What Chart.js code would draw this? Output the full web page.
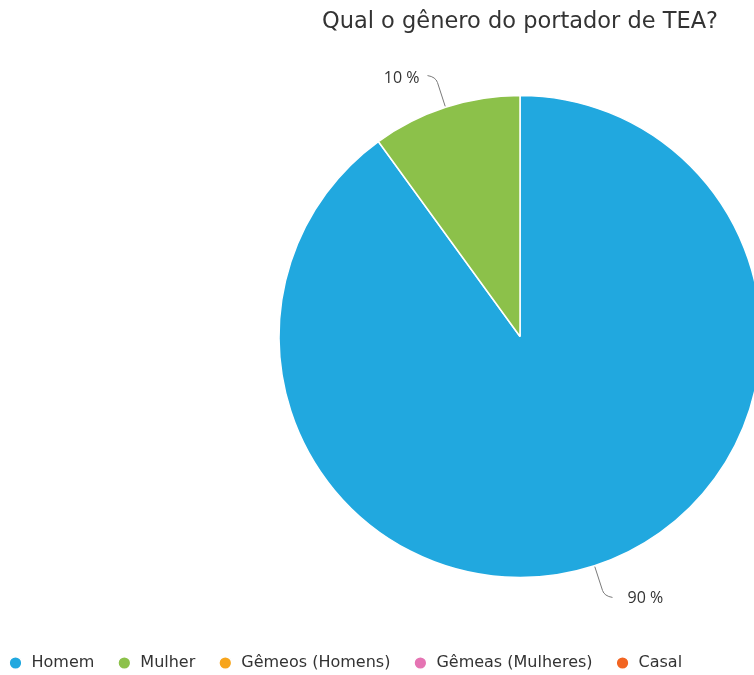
<!DOCTYPE html>
<html>
<head>
<meta charset="utf-8">
<script src="https://cdn.jsdelivr.net/npm/chart.js@4"></script>
<style>
  html, body { margin: 0; padding: 0; background: #fff; overflow: hidden; }
  #caixa { position: relative; width: 1040px; height: 681px; }
</style>
</head>
<body>
<div id="caixa"><canvas id="grafico"></canvas></div>
<script>
const titulo = 'Qual o gênero do portador de TEA?';
const categorias = ['Homem', 'Mulher', 'Gêmeos (Homens)', 'Gêmeas (Mulheres)', 'Casal'];
const percentuais = [90, 10, 0, 0, 0];
const cores = ['#21a8df', '#8cc14a', '#f7a51c', '#e574b3', '#f26522'];

const ctx = document.getElementById('grafico').getContext('2d');

// rótulos "xx %" fora da pizza, com linha guia
const rotulosExternos = {
  id: 'rotulosExternos',
  afterDatasetsDraw(chart) {
    const meta = chart.getDatasetMeta(0);
    const c = chart.ctx;
    c.save();
    meta.data.forEach((arco, i) => {
      const valor = percentuais[i];
      if (!valor) return;
      const p = arco.getProps(['x', 'y', 'startAngle', 'endAngle', 'outerRadius'], true);
      const meio = (p.startAngle + p.endAngle) / 2;
      const ux = Math.cos(meio);
      const uy = Math.sin(meio);
      const sx = ux >= 0 ? 1 : -1;
      const x0 = p.x + ux * (p.outerRadius + 1);
      const y0 = p.y + uy * (p.outerRadius + 1);
      const x1 = p.x + ux * (p.outerRadius + 26);
      const y1 = p.y + uy * (p.outerRadius + 26);
      const x2 = x1 + sx * 10;
      const y2 = y1 + (uy >= 0 ? 7 : -7);
      c.strokeStyle = '#7a7a7a';
      c.lineWidth = 1;
      c.beginPath();
      c.moveTo(x0, y0);
      c.lineTo(x1, y1);
      c.quadraticCurveTo(x1 + ux * 6, y1 + uy * 6, x2, y2);
      c.stroke();
      c.fillStyle = '#333';
      c.font = '16px "Open Sans"';
      c.textBaseline = 'middle';
      c.textAlign = sx > 0 ? 'left' : 'right';
      c.fillText(valor + ' %', x2 + (sx > 0 ? 15 : -8), y2 + (uy >= 0 ? 1 : 3));
    });
    c.restore();
  }
};

new Chart(ctx, {
  type: 'pie',
  data: {
    labels: categorias,
    datasets: [{
      data: percentuais,
      backgroundColor: cores,
      borderColor: '#ffffff',
      borderWidth: 1.5,
      radius: 241
    }]
  },
  options: {
    responsive: true,
    maintainAspectRatio: false,
    animation: false,
    layout: { padding: { left: -14.5, right: -14.5, top: 0, bottom: 0 } },
    plugins: {
      title: {
        display: true,
        text: titulo,
        color: '#333',
        font: { family: 'DejaVu Sans', size: 22.5, weight: 'normal', lineHeight: 1.2 },
        padding: { top: 8.5, bottom: 4.5 }
      },
      legend: {
        position: 'bottom',
        align: 'start',
        labels: {
          color: '#333',
          font: { family: 'DejaVu Sans', size: 16 },
          usePointStyle: true,
          pointStyle: 'circle',
          boxWidth: 16,
          boxHeight: 9,
          padding: 22
        }
      },
      tooltip: { enabled: false }
    }
  },
  plugins: [rotulosExternos]
});
</script>
</body>
</html>
